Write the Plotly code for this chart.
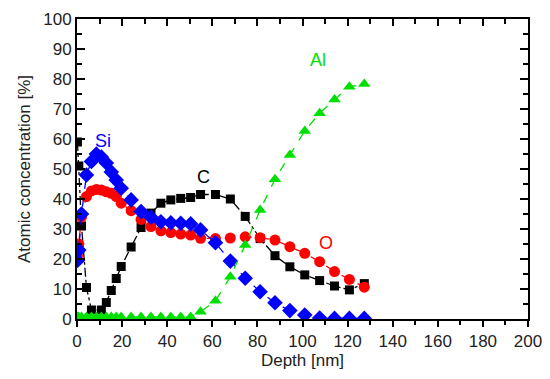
import plotly.graph_objects as go

depth = [0.2, 0.8, 2.0, 4.2, 6.4, 8.6, 10.8, 13.0, 15.2, 17.4, 19.6, 24.0, 28.4, 32.8,
         37.2, 41.6, 46.0, 50.4, 54.8, 61.4, 68.0, 74.6, 81.2, 87.8, 94.4, 101.0,
         107.6, 114.2, 120.8, 127.4]

c_vals = [59, 51, 31, 10.5, 3, None, 3, 5.5, 9.5, 13.5, 17.5, 24, 30.5, 35.3,
          38.6, 39.7, 40.2, 40.5, 41.5, 41.5, 40, 34.2, 26.8, 21.1, 17.4, 14.7,
          12.8, 11, 9.7, 11.8]
si_vals = [19.5, 23, 35, 48, 52.5, 55, 54, 52, 49, 46.3, 43.6, 39.7, 35.8, 33.9,
           32.4, 32.1, 31.9, 31.7, 29.7, 25.4, 19.3, 13.6, 9.1, 5.4, 2.8, 1.3,
           0.3, 0.2, 0.2, 0.2]
o_vals = [21, 25, 34, 40.8, 42.7, 43.2, 43, 42.4, 41.9, 40.8, 38.6, 36.1, 33.2, 30.8,
          29.4, 28.8, 28.3, 28, 26.9, 26.8, 27, 27.4, 27.1, 26.3, 24.1, 21.9,
          19.1, 15.8, 13.2, 10.6]
al_vals = [0.7, 0.7, 0.7, 0.7, 0.7, 0.7, 0.7, 0.7, 0.7, 0.7, 0.7, 0.7, 0.7, 0.7,
           0.7, 0.7, 0.7, 0.7, 2.4, 6.1, 14.1, 24.7, 36.3, 46.6, 54.7, 62.7,
           68.6, 73.2, 77.4, 78.3]

labels = ["C", "Si", "O", "Al"]
label_x = [56, 11.5, 110.5, 107]
label_y = [47.5, 59.5, 25.5, 86.5]
colors = ["#000000", "#0000ff", "#ff0000", "#00e000"]

FONT = "Liberation Sans, Arial, sans-serif"

fig = go.Figure()
fig.add_trace(go.Scatter(x=depth, y=c_vals, mode="lines+markers", connectgaps=True,
                         line=dict(color=colors[0], width=1.3, dash="dashdot"),
                         marker=dict(symbol="square", size=9, color=colors[0])))
fig.add_trace(go.Scatter(x=depth, y=o_vals, mode="lines+markers",
                         line=dict(color=colors[2], width=1.3, dash="dash"),
                         marker=dict(symbol="circle", size=11, color=colors[2])))
fig.add_trace(go.Scatter(x=depth, y=si_vals, mode="lines+markers",
                         line=dict(color=colors[1], width=1.3, dash="dash"),
                         marker=dict(symbol="diamond", size=12, color=colors[1])))
fig.add_trace(go.Scatter(x=depth, y=al_vals, mode="lines+markers",
                         line=dict(color=colors[3], width=1.3, dash="dash"),
                         marker=dict(symbol="triangle-up", size=11, color=colors[3])))
fig.add_trace(go.Scatter(x=[None], y=[None], xaxis="x2", yaxis="y2", showlegend=False))

for t, lx, ly, col in zip(labels, label_x, label_y, colors):
    fig.add_annotation(x=lx, y=ly, text=t, showarrow=False,
                       font=dict(family=FONT, size=18, color=col))

fig.update_layout(
    width=550, height=379,
    margin=dict(l=69, r=30, t=11, b=68, autoexpand=False),
    paper_bgcolor="white", plot_bgcolor="white",
    showlegend=False,
    font=dict(family=FONT, size=17, color="#222222"),
    xaxis=dict(range=[0, 200], dtick=20, tick0=0, showgrid=False, zeroline=False,
               automargin=False,
               showline=True, linecolor="black", linewidth=2, mirror=True,
               ticks="outside", ticklen=6, tickwidth=2, tickcolor="black",
               tickfont=dict(size=17),
               minor=dict(ticks="outside", dtick=10, ticklen=4, tickwidth=2, tickcolor="black"),
               title=dict(text="Depth [nm]", font=dict(size=17), standoff=2)),
    yaxis=dict(range=[0, 100], dtick=10, tick0=0, showgrid=False, zeroline=False,
               automargin=False,
               showline=True, linecolor="black", linewidth=2, mirror=True,
               ticks="inside", ticklen=8, tickwidth=2, tickcolor="black",
               tickfont=dict(size=17),
               minor=dict(ticks="inside", dtick=5, ticklen=5, tickwidth=2, tickcolor="black"),
               title=dict(text="Atomic concentration [%]", font=dict(size=17), standoff=8)),
    xaxis2=dict(range=[0, 200], dtick=20, overlaying="x", side="top", anchor="y2",
                automargin=False,
                showgrid=False, zeroline=False, showticklabels=False,
                ticks="inside", ticklen=7, tickwidth=2, tickcolor="black",
                minor=dict(ticks="inside", dtick=10, ticklen=5, tickwidth=2, tickcolor="black")),
    yaxis2=dict(range=[0, 100], dtick=10, overlaying="y", side="right", anchor="x2",
                automargin=False,
                showgrid=False, zeroline=False, showticklabels=False,
                ticks="inside", ticklen=8, tickwidth=2, tickcolor="black",
                minor=dict(ticks="inside", dtick=5, ticklen=5, tickwidth=2, tickcolor="black")),
)

fig.write_html("out.html")
